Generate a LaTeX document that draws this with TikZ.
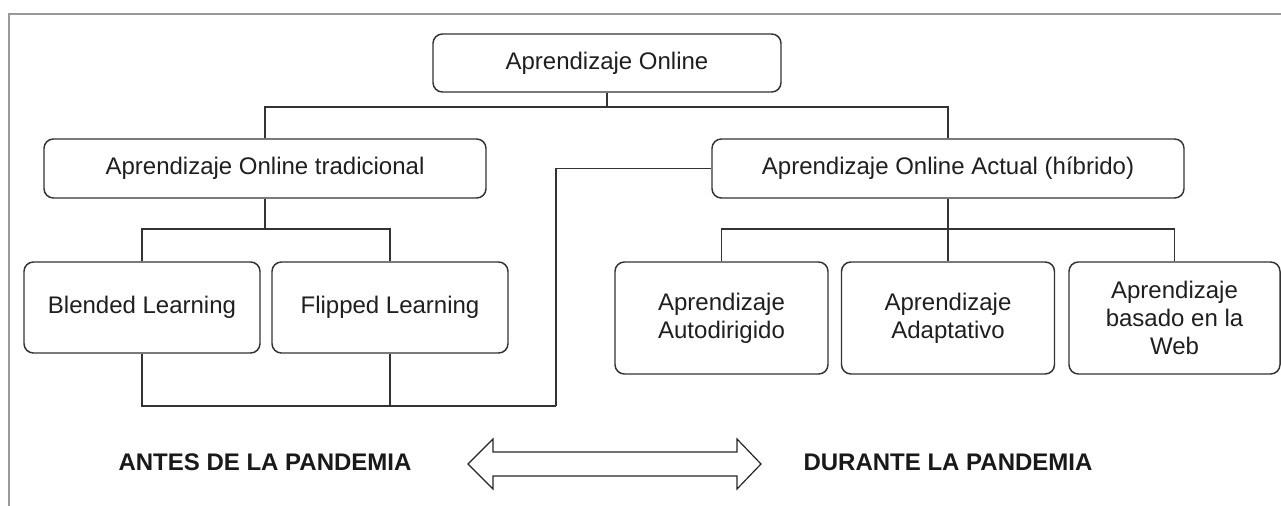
\documentclass[tikz,border=0pt]{standalone}
\usepackage{fontspec}
\setmainfont{Liberation Sans}
\begin{document}
\begin{tikzpicture}[x=0.75pt,y=-0.75pt,
  box/.style={draw=black!80,line width=1.1pt,rounded corners=7pt,align=center,
    font=\fontsize{18}{21}\selectfont,inner sep=0pt,fill=white,text=black!88},
  conn/.style={draw=black!80,line width=1pt},
  frame/.style={draw=black!40,line width=0.9pt},
  lbl/.style={font=\bfseries\fontsize{18}{21}\selectfont,text=black!90,inner sep=0pt,anchor=base}]
\useasboundingbox (0,0) rectangle (1281,506);
\draw[frame] (9,506) -- (9,14) -- (1281,14);
% boxes
\node[box,minimum width=348*0.75pt,minimum height=58*0.75pt] (top) at (607,63) {Aprendizaje Online};
\node[box,minimum width=442*0.75pt,minimum height=59*0.75pt] (trad) at (265,168.5) {Aprendizaje Online tradicional};
\node[box,minimum width=472*0.75pt,minimum height=59*0.75pt] (act) at (948,168.5) {Aprendizaje Online Actual (híbrido)};
\node[box,minimum width=236*0.75pt,minimum height=91*0.75pt] (bl) at (142,307.5) {Blended Learning};
\node[box,minimum width=236*0.75pt,minimum height=91*0.75pt] (fl) at (390,307.5) {Flipped Learning};
\node[box,minimum width=213*0.75pt,minimum height=112*0.75pt] (auto) at (721.5,318) {Aprendizaje\\Autodirigido};
\node[box,minimum width=213*0.75pt,minimum height=112*0.75pt] (adap) at (948,318) {Aprendizaje\\Adaptativo};
\node[box,minimum width=211*0.75pt,minimum height=112*0.75pt] (web) at (1174.5,318) {Aprendizaje\\basado en la\\Web};
% connectors
\coordinate (h1) at (607,107);
\coordinate (h2) at (265,229);
\coordinate (h3) at (948,229);
\coordinate (h4) at (556,406);
\draw[conn] (top.south) -- (h1);
\draw[conn] (trad.north) |- (h1) -| (act.north);
\draw[conn] (trad.south) -- (h2);
\draw[conn] (bl.north) |- (h2) -| (fl.north);
\draw[conn] (act.south) -- (adap.north);
\draw[conn] (auto.north) |- (h3) -| (web.north);
\draw[conn] (bl.south) |- (h4);
\draw[conn] (fl.south) -- (fl.south |- h4);
\draw[conn] (h4) |- (act.west);
% bottom labels
\node[lbl] (antes) at (265,470) {ANTES DE LA PANDEMIA};
\node[lbl] (durante) at (948,470) {DURANTE LA PANDEMIA};
\draw[draw=black!85,line width=0.9pt,fill=white,line join=miter]
  (468,464) -- (493,439) -- (493,452) -- (737,452) -- (737,439) -- (761,464)
  -- (737,489) -- (737,476) -- (493,476) -- (493,489) -- cycle;
\end{tikzpicture}
\end{document}
